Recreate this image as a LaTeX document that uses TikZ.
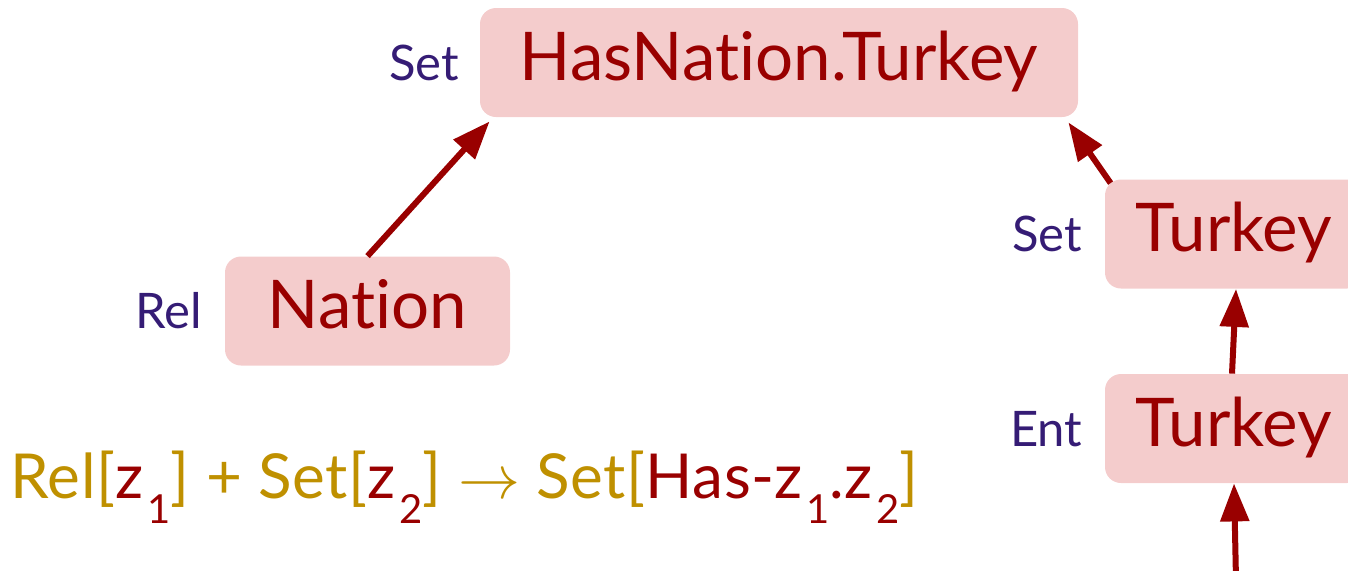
\documentclass[tikz,border=0pt]{standalone}
\usepackage{fix-cm}
\usepackage{fontspec}
\setmainfont{Lato}[Ligatures=NoCommon]
\newfontfamily\rulefont{Lato}[Ligatures=NoCommon, LetterSpace=1]
\usetikzlibrary{arrows.meta}
\definecolor{boxred}{HTML}{990000}
\definecolor{boxpink}{HTML}{F4CCCC}
\definecolor{typepurple}{HTML}{351C75}
\definecolor{rulegold}{HTML}{BF9000}
\newcommand{\zsub}[1]{\textcolor{boxred}{z\hspace{2pt}\raisebox{-12.5pt}{\fontsize{20}{20}\selectfont #1}}}
\newcommand{\redpart}[1]{\textcolor{boxred}{#1}}

\begin{document}
\begin{tikzpicture}[x=0.5pt, y=-0.5pt,
    term/.style={fill=boxpink, text=boxred, rounded corners=8pt, inner ysep=0pt,
        text height=36pt, text depth=18.5pt, font=\fontsize{33.6}{34}\selectfont},
    kind/.style={text=typepurple, inner sep=0pt, anchor=base east, font=\fontsize{24.5}{24}\selectfont},
    arr/.style={draw=boxred, line width=3pt, -{Triangle[length=19pt, width=14pt]}}]
    \useasboundingbox (0, 0) rectangle (1348, 570);
    \clip (0, 0) rectangle (1348, 570);

    \node (hasnation) [term, minimum width=299pt] at (779, 62.5) {HasNation.Turkey};
    \node (nation) [term, minimum width=142.5pt] at (367.5, 311) {Nation};
    \node (settur) [term, minimum width=129pt] at (1234, 234) {Turkey};
    \node (enttur) [term, minimum width=129pt] at (1234, 428.5) {Turkey};

    \node (hasnationkind) [kind] at ([xshift=-10pt]hasnation.base west) {Set};
    \node (nationkind) [kind] at ([xshift=-11pt]nation.base west) {Rel};
    \node (setturkind) [kind] at ([xshift=-11pt]settur.base west) {Set};
    \node (employkind) [kind] at ([xshift=-11pt]enttur.base west) {Ent};

    \coordinate (source) at (1236, 580);

    \draw[arr] (nation.north) -- ([xshift=5pt, yshift=-2pt]hasnation.south west);
    \draw[arr] ([xshift=3pt, yshift=-2pt]settur.north west) -- ([xshift=-5pt, yshift=-2.5pt]hasnation.south east);
    \draw[arr] ([xshift=-1pt]enttur.north) -- ([xshift=1pt]settur.south);
    \draw[arr] (source) -- (enttur.south);

    \node (rule) [text=rulegold, inner sep=0pt, anchor=base west, font=\rulefont\fontsize{31}{31}\selectfont] at (10, 498)
        {Rel[\zsub{1}] + Set[\zsub{2}] $\rightarrow$ Set[\redpart{Has-}\zsub{1}\redpart{.}\zsub{2}]};
\end{tikzpicture}
\end{document}
